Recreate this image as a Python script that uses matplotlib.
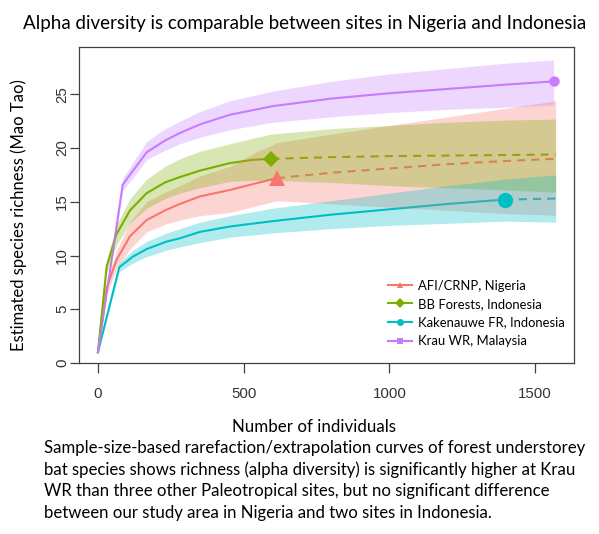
import numpy as np
import matplotlib
matplotlib.use('Agg')
import matplotlib.pyplot as plt
from matplotlib.lines import Line2D
from matplotlib.legend_handler import HandlerLine2D

# --- data (iNEXT-style curves) ---
sites = ['AFI/CRNP, Nigeria', 'BB Forests, Indonesia', 'Kakenauwe FR, Indonesia', 'Krau WR, Malaysia']
colors = ['#F8766D', '#7CAE00', '#00BFC4', '#C77CFF']
markers = ['^', 'D', 'o', 'o']
n_obs = [614, 595, 1395, 1563]

x_afi = [0, 30, 64, 110, 167, 230, 281, 350, 453, 540, 614, 800, 1000, 1200, 1400, 1570]
y_afi = [1, 7.0, 9.6, 11.8, 13.3, 14.2, 14.8, 15.5, 16.1, 16.7, 17.2, 17.7, 18.1, 18.5, 18.8, 19.0]
lo_afi = [1, 6.4, 8.8, 10.6, 12.2, 12.9, 13.3, 13.7, 14.0, 14.6, 15.1, 14.8, 14.5, 14.2, 13.9, 13.75]
hi_afi = [1, 7.6, 10.5, 13.1, 15.0, 15.9, 16.5, 17.4, 18.3, 19.6, 20.5, 21.3, 22.1, 22.9, 23.7, 24.4]

x_bb = [0, 30, 64, 110, 167, 230, 281, 350, 453, 530, 595, 800, 1000, 1200, 1400, 1570]
y_bb = [1, 9.0, 12.0, 14.2, 15.8, 16.8, 17.3, 17.9, 18.6, 18.9, 19.0, 19.15, 19.25, 19.3, 19.35, 19.4]
lo_bb = [1, 8.4, 11.0, 13.0, 14.4, 15.3, 15.8, 16.3, 16.9, 17.0, 17.0, 16.8, 16.5, 16.3, 16.1, 15.9]
hi_bb = [1, 9.6, 12.9, 15.3, 17.1, 18.3, 19.0, 19.7, 20.4, 20.9, 21.3, 21.8, 22.1, 22.4, 22.6, 22.7]

x_kak = [0, 73, 120, 167, 236, 281, 350, 453, 600, 800, 1000, 1200, 1395, 1480, 1570]
y_kak = [1, 8.9, 9.9, 10.6, 11.3, 11.6, 12.2, 12.7, 13.2, 13.8, 14.3, 14.8, 15.2, 15.25, 15.3]
lo_kak = [1, 8.5, 9.3, 9.9, 10.5, 10.8, 11.2, 11.7, 12.1, 12.5, 12.8, 13.0, 13.2, 13.15, 13.1]
hi_kak = [1, 9.3, 10.5, 11.3, 12.1, 12.5, 13.1, 13.7, 14.4, 15.1, 15.8, 16.5, 17.1, 17.3, 17.5]

x_krau = [0, 85, 167, 230, 281, 350, 453, 600, 800, 1000, 1200, 1400, 1563]
y_krau = [1, 16.6, 19.6, 20.7, 21.4, 22.2, 23.1, 23.9, 24.6, 25.1, 25.5, 25.9, 26.2]
lo_krau = [1, 16.0, 18.9, 19.8, 20.4, 21.0, 21.7, 22.4, 22.9, 23.3, 23.6, 23.8, 24.0]
hi_krau = [1, 17.2, 20.6, 21.8, 22.5, 23.4, 24.4, 25.3, 26.2, 26.9, 27.4, 27.9, 28.2]

xs = [x_afi, x_bb, x_kak, x_krau]
ys = [y_afi, y_bb, y_kak, y_krau]
los = [lo_afi, lo_bb, lo_kak, lo_krau]
his = [hi_afi, hi_bb, hi_kak, hi_krau]
msizes = [12, 8, 11, 7.5]

tick_font = 'Liberation Sans'
text_font = 'Lato'


class RightMarker(HandlerLine2D):
    def get_xdata(self, legend, xdescent, ydescent, width, height, fontsize):
        xdata = np.array([-xdescent, -xdescent + width])
        return xdata, np.array([-xdescent + 0.75 * width])


fig = plt.figure(figsize=(5.99, 5.34), dpi=100)
ax = fig.add_axes([79 / 599, 1 - 363 / 534, (574 - 79) / 599, (363 - 47) / 534])

for i in range(4):
    x = np.array(xs[i], dtype=float)
    y = np.array(ys[i])
    c = colors[i]
    rare = x <= n_obs[i]
    extra = x >= n_obs[i]
    ax.plot(x[rare], y[rare], color=c, lw=1.5, zorder=2)
    if extra.sum() > 1:
        ax.plot(x[extra], y[extra], color=c, lw=1.5, ls=(0, (3.9, 2.9)), zorder=2)
    ax.fill_between(x, los[i], his[i], color=c, alpha=0.3, lw=0, zorder=3)
    k = np.where(x == n_obs[i])[0][0]
    ax.plot(x[k], y[k], marker=markers[i], color=c, ms=msizes[i], mew=0, zorder=4)

ax.set_xlim(-65, 1633)
ax.set_ylim(0, 29.4)
ax.set_xticks([0, 500, 1000, 1500])
ax.set_yticks([0, 5, 10, 15, 20, 25])
for s in ax.spines.values():
    s.set_color('#404040')
    s.set_linewidth(0.9)
ax.tick_params(axis='x', length=7.2, width=0.9, color='#404040', pad=10, labelsize=10.8, labelcolor='#333333')
ax.tick_params(axis='y', length=6.5, width=0.9, color='#404040', pad=0.5, labelsize=10.8, labelcolor='#333333')
for lab in ax.get_xticklabels():
    lab.set_fontfamily(tick_font)
for lab in ax.get_yticklabels():
    lab.set_fontfamily(tick_font)
    lab.set_rotation(90)
    lab.set_va('center')

handles = [Line2D([], [], color=colors[i], marker=markers[i], ms=5, mew=0, lw=1.5) for i in range(4)]
handles[3] = Line2D([], [], color=colors[3], marker='s', ms=4, mew=0, lw=1.5)
leg = ax.legend(handles, sites, loc='upper left', bbox_to_anchor=(381 / 599, 1 - 273 / 534),
                bbox_transform=fig.transFigure, frameon=False,
                handlelength=1.9, handletextpad=0.45, labelspacing=0.5, borderpad=0,
                handler_map={h: RightMarker() for h in handles}, prop={'family': text_font, 'size': 9.4})

fig.text(305 / 599, 1 - 23 / 534, 'Alpha diversity is comparable between sites in Nigeria and Indonesia',
         ha='center', va='center', fontsize=13.5, family=text_font)
fig.text(19 / 599, 1 - 215 / 534, 'Estimated species richness (Mao Tao)', rotation=90,
         ha='center', va='center', fontsize=12, family=text_font)
fig.text(314 / 599, 1 - 427 / 534, 'Number of individuals', ha='center', va='center',
         fontsize=12.2, family=text_font)

caption = ['Sample-size-based rarefaction/extrapolation curves of forest understorey',
           'bat species shows richness (alpha diversity) is significantly higher at Krau',
           'WR than three other Paleotropical sites, but no significant difference',
           'between our study area in Nigeria and two sites in Indonesia.']
for j, line in enumerate(caption):
    fig.text(44 / 599, 1 - (448 + 21.7 * j) / 534, line, ha='left', va='center',
             fontsize=12.1, family=text_font)

fig.savefig('out.png', dpi=100)
